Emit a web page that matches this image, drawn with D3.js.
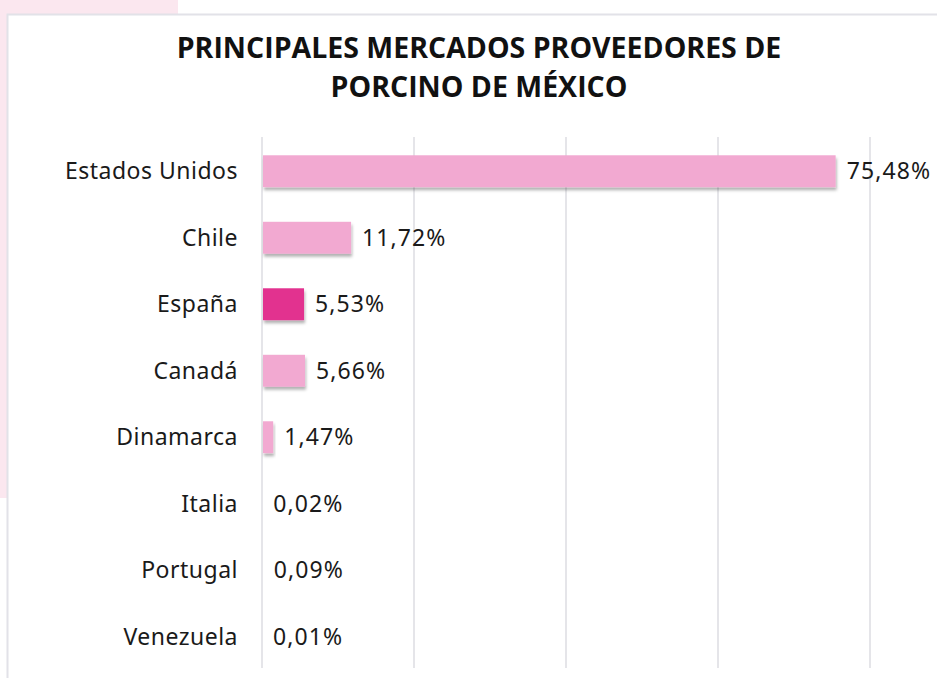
<!DOCTYPE html>
<html>
<head>
<meta charset="utf-8">
<script src="https://d3js.org/d3.v7.min.js"></script>
<style>
	body { margin: 0; background: #fff; }
	svg { display: block; }
	.title { font-family: "Open Sans", sans-serif; font-weight: 700; font-size: 28.5px; fill: #111; }
	.cat { font-family: "Noto Sans", sans-serif; font-size: 23px; letter-spacing: 0.5px; fill: #1a1a1a; }
	.val { font-family: "Noto Sans", sans-serif; font-size: 23px; letter-spacing: 1.1px; fill: #1a1a1a; }
	.grid line { stroke: #dcdce2; stroke-width: 1.5; }
</style>
</head>
<body>
<div id="chart"></div>
<script>
	var countries = ["Estados Unidos", "Chile", "España", "Canadá", "Dinamarca", "Italia", "Portugal", "Venezuela"];
	var shares = [75.48, 11.72, 5.53, 5.66, 1.47, 0.02, 0.09, 0.01];
	var labels = ["75,48%", "11,72%", "5,53%", "5,66%", "1,47%", "0,02%", "0,09%", "0,01%"];
	var highlight = "España";
	var gridTicks = [0, 20, 40, 60, 80];

	var W = 937, H = 678;
	var svg = d3.select("#chart").append("svg")
		.attr("width", W)
		.attr("height", H);

	// drop shadow for the bars
	var defs = svg.append("defs");
	var f = defs.append("filter").attr("id", "shadow")
		.attr("x", "-10%").attr("y", "-20%").attr("width", "130%").attr("height", "160%");
	f.append("feDropShadow")
		.attr("dx", 1).attr("dy", 3).attr("stdDeviation", 1.5)
		.attr("flood-color", "#000").attr("flood-opacity", 0.3);

	// pinkish page behind the chart card
	svg.append("rect").attr("x", 0).attr("y", 0).attr("width", 178).attr("height", 15).attr("fill", "#fbe7ef");
	svg.append("rect").attr("x", 0).attr("y", 0).attr("width", 7).attr("height", 498).attr("fill", "#fbe7ef");
	svg.append("rect").attr("x", 7.5).attr("y", 14.5).attr("width", W).attr("height", H)
		.attr("fill", "#fff").attr("stroke", "#e2e2e8").attr("stroke-width", 2);

	var title = svg.append("text").attr("class", "title").attr("text-anchor", "middle");
	title.append("tspan").attr("x", 479).attr("y", 58).text("PRINCIPALES MERCADOS PROVEEDORES DE");
	title.append("tspan").attr("x", 479).attr("y", 97).text("PORCINO DE MÉXICO");

	var x = d3.scaleLinear().domain([0, 80]).range([262, 870]);
	var y = d3.scaleBand().domain(countries).range([138, 670]).paddingInner(0.52).paddingOuter(0.26);

	svg.append("g").attr("class", "grid")
		.selectAll("line").data(gridTicks).enter().append("line")
		.attr("x1", function(d) { return x(d); })
		.attr("x2", function(d) { return x(d); })
		.attr("y1", 137).attr("y2", 668);

	svg.append("g").selectAll("rect").data(countries).enter().append("rect")
		.attr("x", x(0) + 1)
		.attr("y", function(d) { return y(d); })
		.attr("width", function(d, i) { return Math.max(0, x(shares[i]) - x(0) - 1); })
		.attr("height", y.bandwidth())
		.attr("fill", function(d) { return d === highlight ? "#e2308f" : "#f2a9d1"; })
		.attr("filter", "url(#shadow)");

	svg.append("g").selectAll("text").data(countries).enter().append("text")
		.attr("class", "cat")
		.attr("x", 238)
		.attr("y", function(d) { return y(d) + y.bandwidth() / 2; })
		.attr("dy", "0.35em")
		.attr("text-anchor", "end")
		.text(function(d) { return d; });

	svg.append("g").selectAll("text").data(countries).enter().append("text")
		.attr("class", "val")
		.attr("x", function(d, i) { return x(shares[i]) + 11; })
		.attr("y", function(d) { return y(d) + y.bandwidth() / 2; })
		.attr("dy", "0.35em")
		.text(function(d, i) { return labels[i]; });
</script>
</body>
</html>
